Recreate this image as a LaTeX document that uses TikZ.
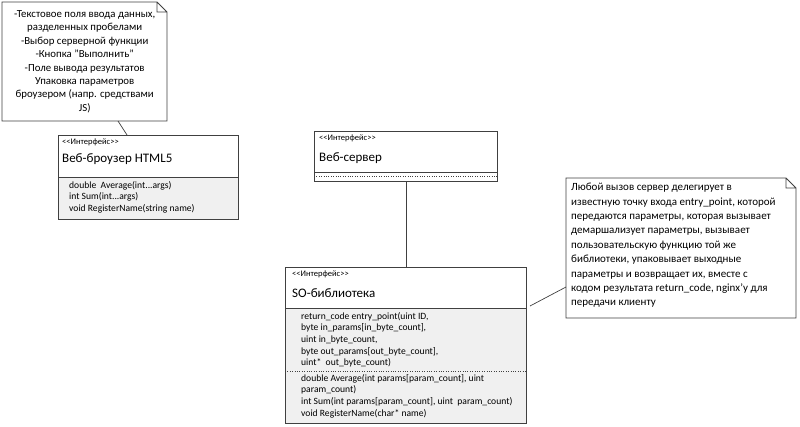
\documentclass[tikz,border=0pt]{standalone}
\usepackage{fontspec}
\setmainfont{Carlito}
\usetikzlibrary{positioning}
\tikzset{
  umlbox/.style={draw=black!75, line width=0.8pt, anchor=north west, inner sep=0pt},
  opsfill/.style={fill=black!6},
  stereo/.style={anchor=north west, font=\fontsize{8.5}{9}\selectfont, inner sep=0pt},
  title/.style={anchor=north west, font=\fontsize{13}{14}\selectfont, inner sep=0pt},
  ops/.style={anchor=north west, font=\fontsize{9.6}{11.6}\selectfont, align=left, inner sep=0pt},
  notetext/.style={font=\fontsize{10.8}{13.4}\selectfont, inner sep=0pt},
  link/.style={draw=black!75, line width=0.7pt}
}
\newcommand{\stereotxt}{{<}{<}Интерфейс{>}{>}}
\newcommand{\umlnote}[5]{% name, x1, y1, x2, y2
  \fill[white] (#2,#3) -- (#4-10,#3) -- (#4,#3+10) -- (#4,#5) -- (#2,#5) -- cycle;
  \draw[black!75, line width=0.8pt] (#2,#3) -- (#4-10,#3) -- (#4,#3+10) -- (#4,#5) -- (#2,#5) -- cycle
    (#4-10,#3) -- (#4-10,#3+10) -- (#4,#3+10);
  \node[inner sep=0pt, minimum width=#4-#2, minimum height=#5-#3, anchor=north west] (#1) at (#2,#3) {};
}
\begin{document}
\begin{tikzpicture}[x=1pt, y=-1pt]
\useasboundingbox (0,0) rectangle (800,426);

% notes
\umlnote{bnote}{2}{2}{167}{121}
\node[notetext, align=center] at (bnote.center) {-Текстовое поля ввода данных,\\разделенных пробелами\\-Выбор серверной функции\\-Кнопка "Выполнить"\\-Поле вывода результатов\\Упаковка параметров\\броузером (напр. средствами\\JS)};
\umlnote{snote}{566}{178}{796}{318}
\node[notetext, align=left, anchor=north west, font=\fontsize{11}{14.4}\selectfont] at (571,183) {Любой вызов сервер делегирует в\\известную точку входа entry\_point, которой\\передаются параметры, которая вызывает\\демаршализует параметры, вызывает\\пользовательскую функцию той же\\библиотеки, упаковывает выходные\\параметры и возвращает их, вместе с\\кодом результата return\_code, nginx'у для\\передачи клиенту};

% browser
\fill[opsfill] (58,177) rectangle (238,219);
\node[umlbox, minimum width=180, minimum height=84] (browser) at (58,135) {};
\draw[black!75, line width=0.8pt] (58,177) -- (238,177);
\node[stereo] at (62,139) {\stereotxt};
\node[title] at (62,153) {Веб-броузер HTML5};
\node[ops] at (69,181) {double\ \ Average(int...args)\\int Sum(int...args)\\void RegisterName(string name)};

% web server
\node[umlbox, minimum width=183, minimum height=50] (server) at (314,131) {};
\draw[black!75, line width=0.8pt] (314,172) -- (497,172);
\draw[black!75, dotted] (314,176) -- (497,176);
\node[stereo] at (319,135) {\stereotxt};
\node[title] at (319,152) {Веб-сервер};

% SO library
\fill[opsfill] (285,308) rectangle (526,423);
\node[umlbox, minimum width=241, minimum height=156] (solib) at (285,267) {};
\draw[black!75, line width=0.8pt] (285,308) -- (526,308);
\draw[black!75, dotted] (285,371) -- (526,371);
\node[stereo] at (292,271) {\stereotxt};
\node[title] at (292,288) {SO-библиотека};
\node[ops] at (301,312) {return\_code entry\_point(uint ID,\\byte in\_params[in\_byte\_count],\\uint in\_byte\_count,\\byte out\_params[out\_byte\_count],\\uint*\ \ out\_byte\_count)};
\node[ops] at (301,374) {double Average(int params[param\_count], uint\\param\_count)\\int Sum(int params[param\_count], uint\ \ param\_count)\\void RegisterName(char* name)};

% links
\coordinate (bnfoot) at (118,121);
\coordinate (brtop) at (127,135);
\coordinate (solink) at (530,306);
\coordinate (snlink) at (566,287);
\draw[link] (bnfoot) -- (brtop);
\draw[link] (server.south) -- (solib.north -| server.south);
\draw[link] (solink) -- (snlink);
\end{tikzpicture}
\end{document}
